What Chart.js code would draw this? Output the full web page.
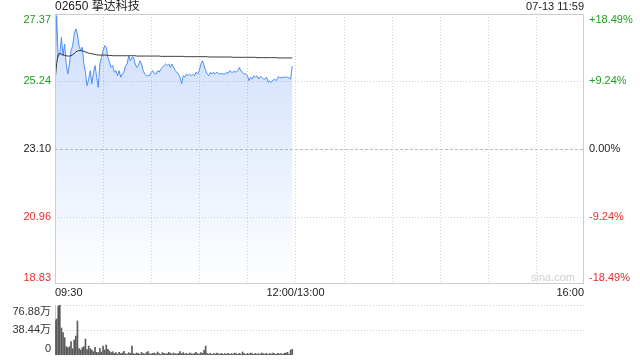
<!DOCTYPE html>
<html>
<head>
<meta charset="utf-8">
<script src="https://cdn.jsdelivr.net/npm/chart.js@4.4.0/dist/chart.umd.min.js"></script>
<style>
  body { margin: 0; background: #fff; }
  #wrap { position: relative; width: 640px; height: 360px; }
  canvas { position: absolute; left: 0; }
  #price { top: 0; }
  #vol { top: 300px; }
</style>
</head>
<body>
<div id="wrap">
  <canvas id="price" width="640" height="300"></canvas>
  <canvas id="vol" width="640" height="60"></canvas>
</div>
<script>
// 02650 挚达科技, Minutenwerte 09:30 - 11:59 (Index = Minute seit 09:30)
const title = '02650 挚达科技';
const stamp = '07-13 11:59';

const prices = [
  25.55, 27.32, 26.01, 26.10, 26.63, 26.05, 26.42, 25.79, 25.47, 25.79,
  26.21, 26.37, 26.74, 26.90, 26.74, 26.37, 26.21, 26.32, 25.79, 25.53,
  25.10, 25.31, 25.58, 25.16, 25.53, 25.74, 25.37, 25.05, 25.79, 26.00,
  26.21, 26.37, 26.32, 26.00, 25.84, 25.68, 25.74, 25.53, 25.58, 25.42,
  25.58, 25.37, 25.47, 25.53, 25.74, 25.79, 26.05, 25.89, 26.00, 26.00,
  25.79, 25.68, 25.74, 25.89, 25.79, 25.58, 25.47, 25.42, 25.42, 25.42,
  25.53, 25.58, 25.49, 25.47, 25.58, 25.53, 25.63, 25.68, 25.74, 25.79,
  25.74, 25.79, 25.68, 25.79, 25.68, 25.58, 25.53, 25.47, 25.37, 25.16,
  25.42, 25.37, 25.47, 25.42, 25.47, 25.42, 25.47, 25.42, 25.53, 25.47,
  25.58, 25.79, 25.89, 25.74, 25.58, 25.47, 25.42, 25.53, 25.47,
  25.53, 25.47, 25.53, 25.49, 25.47, 25.49, 25.47, 25.47, 25.53, 25.49,
  25.58, 25.53, 25.53, 25.56, 25.53, 25.58, 25.68, 25.56, 25.53, 25.47,
  25.47, 25.42, 25.26, 25.37, 25.31, 25.42, 25.37, 25.42, 25.31, 25.39,
  25.37, 25.31, 25.31, 25.37, 25.21, 25.26, 25.21, 25.28, 25.31, 25.26,
  25.37, 25.37, 25.35, 25.37, 25.37, 25.37, 25.37, 25.35, 25.31, 25.73
];

// Durchschnittspreis (schwarze Linie)
const avgPrices = [
  25.22, 25.80, 26.10, 26.12, 26.10, 26.08, 26.06, 26.05, 26.04, 26.04,
  26.05, 26.08, 26.12, 26.17, 26.20, 26.21, 26.21, 26.20, 26.19, 26.17,
  26.15, 26.13, 26.12, 26.11, 26.10, 26.09, 26.08, 26.07, 26.07, 26.07,
  26.07, 26.07, 26.07, 26.06, 26.06, 26.06, 26.05, 26.05, 26.05, 26.05,
  26.05, 26.05, 26.05, 26.05, 26.05, 26.05, 26.05, 26.05, 26.05, 26.05,
  26.05, 26.04, 26.04, 26.04, 26.04, 26.04, 26.04, 26.04, 26.04, 26.04,
  26.04, 26.04, 26.04, 26.04, 26.04, 26.04, 26.03, 26.03, 26.03, 26.03,
  26.03, 26.03, 26.03, 26.03, 26.03, 26.03, 26.03, 26.03, 26.03, 26.03,
  26.03, 26.02, 26.02, 26.02, 26.02, 26.02, 26.02, 26.02, 26.02, 26.02,
  26.02, 26.02, 26.02, 26.02, 26.02, 26.02, 26.01, 26.01, 26.01, 26.01,
  26.01, 26.01, 26.01, 26.01, 26.01, 26.01, 26.01, 26.01, 26.01, 26.01,
  26.01, 26.00, 26.00, 26.00, 26.00, 26.00, 26.00, 26.00, 26.00, 26.00,
  26.00, 26.00, 26.00, 26.00, 26.00, 26.00, 25.99, 25.99, 25.99, 25.99,
  25.99, 25.99, 25.99, 25.99, 25.99, 25.99, 25.99, 25.99, 25.99, 25.98,
  25.98, 25.98, 25.98, 25.98, 25.98, 25.98, 25.98, 25.98, 25.98
];

// Volumen in 万
const volumes = [
  52.8, 55.4, 75.3, 76.88, 41.5, 34.3, 26.7, 12.8, 11.3, 12.8,
  20.5, 9.7, 23.1, 29.2, 52.3, 9.7, 7.7, 11.3, 12.8, 24.6,
  8.5, 13.8, 9.7, 7.7, 5.1, 11.8, 4.1, 3.6, 10.3, 4.6,
  13.8, 7.7, 15.4, 8.7, 6.1, 3.6,
  5.1, 2.6, 3.6, 1.5, 4.1, 2.1, 3.1, 5.6, 2.0, 1.5, 3.6, 2.6,
  13.8,
  2.1, 1.5, 3.1, 2.6, 1.0, 4.1, 2.1, 1.5, 3.6, 5.1, 2.0, 1.5,
  2.6, 3.1, 1.5, 4.6, 2.1, 1.0, 3.6, 2.6, 1.5, 2.1, 4.1, 2.6, 1.5, 3.1, 2.0,
  1.5, 2.6, 5.1, 2.1, 3.6, 1.5, 2.6, 1.0, 3.1, 2.1, 1.5, 2.6, 4.1, 2.0, 1.5, 3.6, 2.6, 7.2,
  13.8,
  2.1, 1.5, 2.6, 1.0, 2.1, 1.5, 3.1, 2.0, 1.5, 2.6, 1.0, 2.1, 1.5, 2.6, 1.0, 2.1,
  1.5, 3.1, 2.0, 1.0, 2.6, 1.5, 4.6, 2.1, 1.0, 2.6, 1.5, 3.1, 2.0, 1.0, 2.6, 1.5, 2.1, 1.0, 3.1, 2.0,
  1.5, 2.6, 1.0, 2.1, 1.5, 3.1, 2.0, 1.0, 2.6, 1.5, 2.1, 1.0, 2.6, 3.1, 4.1, 1.5, 7.7, 8.7
];

// Achsen
const priceTicks = [18.83, 20.96, 23.10, 25.24, 27.37];
const pctTicks = ['-18.49%', '-9.24%', '0.00%', '+9.24%', '+18.49%'];
const tickColors = ['#ee2b2b', '#ee2b2b', '#222222', '#1d9e1d', '#1d9e1d'];
const gridMinutes = [30, 60, 90, 120, 150, 180, 210, 240, 270, 300];
const timeTicks = [0, 150, 330];
const timeLabels = ['09:30', '12:00/13:00', '16:00'];
const volTicks = [0, 38.44, 76.88];
const volLabels = ['0', '38.44万', '76.88万'];

const FONT = '"Liberation Sans", Arial, "Noto Sans CJK SC", sans-serif';

function hline(ctx, x1, x2, y) {
    ctx.beginPath(); ctx.moveTo(x1, y); ctx.lineTo(x2, y); ctx.stroke();
}
function vline(ctx, x, y1, y2) {
    ctx.beginPath(); ctx.moveTo(x, y1); ctx.lineTo(x, y2); ctx.stroke();
}

// Gitter, Rahmen und Beschriftung vom Preis-Chart
const priceDecor = {
    id: 'priceDecor',
    beforeDatasetsDraw(chart) {
        const { ctx, chartArea: a, scales: { x, y } } = chart;
        ctx.save();
        ctx.lineWidth = 1;
        ctx.strokeStyle = '#d2d2d2';
        ctx.setLineDash([1, 2]);
        gridMinutes.forEach(m => vline(ctx, Math.round(x.getPixelForValue(m)) + 0.5, a.top, a.bottom));
        priceTicks.forEach((v, i) => {
            if (i === 0 || i === priceTicks.length - 1) return;
            const py = Math.round(y.getPixelForValue(v)) + 0.5;
            if (i === 2) { ctx.setLineDash([3, 2]); ctx.strokeStyle = '#bdbdbd'; }
            else { ctx.setLineDash([1, 2]); ctx.strokeStyle = '#d2d2d2'; }
            hline(ctx, a.left, a.right, py);
        });
        ctx.restore();
    },
    afterDraw(chart) {
        const { ctx, chartArea: a, scales: { x, y } } = chart;
        ctx.save();
        ctx.strokeStyle = '#cccccc';
        ctx.lineWidth = 1;
        ctx.strokeRect(a.left + 0.5, a.top + 0.5, a.right - a.left - 1, a.bottom - a.top - 1);

        ctx.font = '11px ' + FONT;
        ctx.textBaseline = 'middle';
        priceTicks.forEach((v, i) => {
            let py = y.getPixelForValue(v);
            if (i === 0) py -= 6;
            if (i === priceTicks.length - 1) py += 6;
            ctx.fillStyle = tickColors[i];
            ctx.textAlign = 'right';
            ctx.fillText(v.toFixed(2), a.left - 4, py);
            ctx.textAlign = 'left';
            ctx.fillText(pctTicks[i], a.right + 5, py);
        });

        ctx.fillStyle = '#222';
        timeTicks.forEach((m, i) => {
            ctx.textAlign = i === 0 ? 'left' : (i === timeTicks.length - 1 ? 'right' : 'center');
            ctx.fillText(timeLabels[i], x.getPixelForValue(m), a.bottom + 9);
        });

        ctx.textAlign = 'right';
        ctx.fillText(stamp, a.right, 7);
        ctx.font = '12px ' + FONT;
        ctx.textAlign = 'left';
        ctx.fillText(title, a.left, 7);

        ctx.font = '11px ' + FONT;
        ctx.fillStyle = '#d0d0d0';
        ctx.textAlign = 'center';
        ctx.fillText('sina.com', 553, a.bottom - 6);
        ctx.restore();
    }
};

const volDecor = {
    id: 'volDecor',
    beforeDatasetsDraw(chart) {
        const { ctx, chartArea: a, scales: { y } } = chart;
        ctx.save();
        ctx.lineWidth = 1;
        ctx.strokeStyle = '#cccccc';
        ctx.setLineDash([1, 2]);
        hline(ctx, a.left, a.right, Math.round(y.getPixelForValue(volTicks[2])) + 0.5);
        hline(ctx, a.left, a.right, Math.round(y.getPixelForValue(volTicks[1])) + 0.5);
        ctx.setLineDash([]);
        vline(ctx, a.left + 0.5, a.top, a.bottom);
        ctx.restore();
    },
    afterDraw(chart) {
        const { ctx, chartArea: a, scales: { y } } = chart;
        ctx.save();
        ctx.font = '11px ' + FONT;
        ctx.textBaseline = 'middle';
        ctx.textAlign = 'right';
        ctx.fillStyle = '#333';
        volTicks.forEach((v, i) => {
            let py = y.getPixelForValue(v);
            if (i === 0) py -= 6;
            if (i === volTicks.length - 1) py += 7;
            ctx.fillText(volLabels[i], a.left - 4, py);
        });
        ctx.restore();
    }
};

const fillGradient = (c) => {
    const a = c.chart.chartArea;
    if (!a) return 'rgba(0,0,0,0)';
    const g = c.chart.ctx.createLinearGradient(0, a.top, 0, a.bottom);
    g.addColorStop(0, 'rgba(60,125,240,0.26)');
    g.addColorStop(1, 'rgba(60,125,240,0.0)');
    return g;
};

const hidden = { display: false };

new Chart(document.getElementById('price'), {
    type: 'line',
    data: {
        datasets: [{
            data: avgPrices.map((v, i) => ({ x: i, y: v })),
            borderColor: '#333333',
            borderWidth: 1,
            pointRadius: 0,
            fill: false
        }, {
            data: prices.map((v, i) => ({ x: i, y: v })),
            borderColor: '#4f8ef3',
            borderWidth: 1,
            pointRadius: 0,
            fill: 'start',
            backgroundColor: fillGradient
        }]
    },
    options: {
        responsive: false,
        animation: false,
        layout: { padding: { left: 55, right: 56, top: 14, bottom: 16 } },
        plugins: { legend: hidden, tooltip: { enabled: false } },
        scales: {
            x: { type: 'linear', min: 0, max: 330, display: false },
            y: { min: priceTicks[0], max: priceTicks[priceTicks.length - 1], display: false }
        }
    },
    plugins: [priceDecor]
});

new Chart(document.getElementById('vol'), {
    type: 'bar',
    data: {
        datasets: [{
            data: volumes.map((v, i) => ({ x: i, y: v })),
            backgroundColor: '#5a5a5a',
            barThickness: 1
        }]
    },
    options: {
        responsive: false,
        animation: false,
        layout: { padding: { left: 55, right: 56, top: 5, bottom: 5 } },
        plugins: { legend: hidden, tooltip: { enabled: false } },
        scales: {
            x: { type: 'linear', min: 0, max: 330, offset: false, display: false },
            y: { min: 0, max: volTicks[2], display: false }
        }
    },
    plugins: [volDecor]
});
</script>
</body>
</html>
